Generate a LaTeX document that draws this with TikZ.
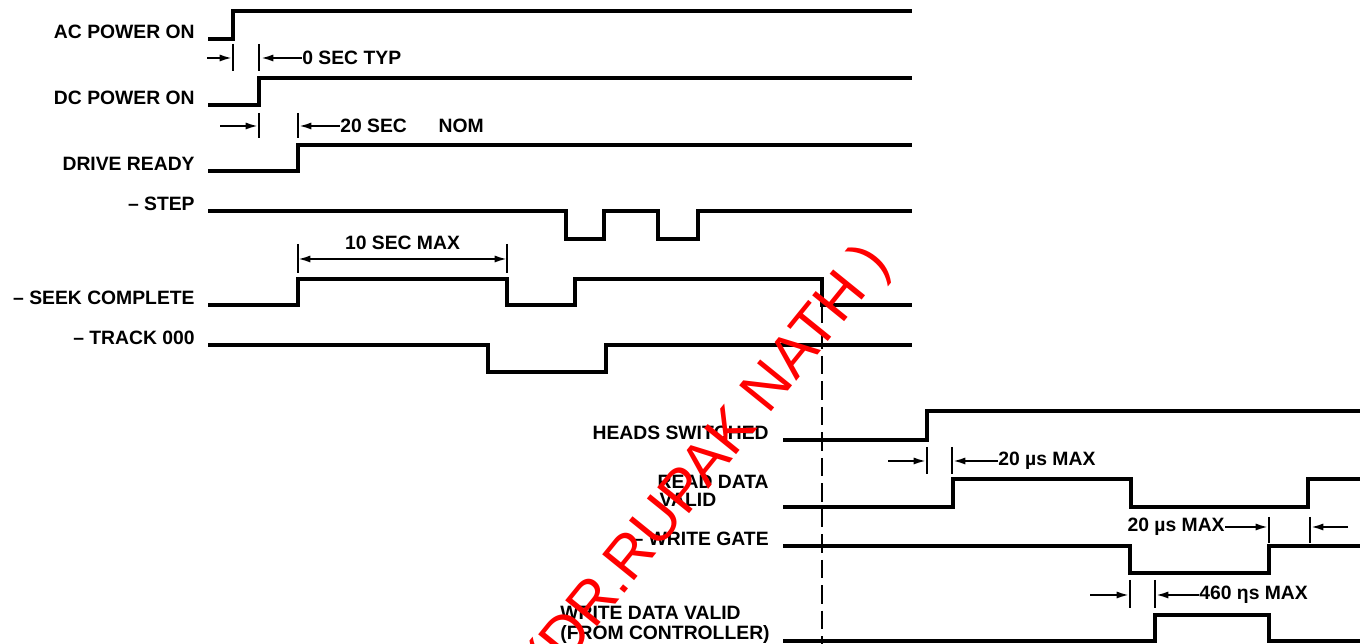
\documentclass[tikz,border=0pt]{standalone}
\usepackage{fontspec}
\setmainfont{Liberation Sans}
\usetikzlibrary{positioning, arrows.meta, calc}
\tikzset{
  sig/.style={line width=1.8pt, line join=miter},
  tck/.style={line width=1.1pt},
  arr/.style={-{Latex[length=7pt,width=4pt]}, line width=1.1pt},
  darr/.style={{Latex[length=7pt,width=4pt]}-{Latex[length=7pt,width=4pt]}, line width=1.1pt},
  lab/.style={font=\bfseries\fontsize{11}{11}\selectfont, inner sep=0pt},
  wm/.style={text=red, font=\fontsize{34}{34}\selectfont, inner sep=0pt, rotate=51}
}
\begin{document}
\begin{tikzpicture}[x=0.02cm, y=-0.02cm]
\useasboundingbox (0,0) rectangle (1367,644);
% power up and seek
\node[lab, anchor=base east] (ac)   at (195,39)  {AC POWER ON};
\node[lab, anchor=base east] (dc)   at (195,105) {DC POWER ON};
\node[lab, anchor=base east] (rdy)  at (195,171) {DRIVE READY};
\node[lab, anchor=base east] (stp)  at (195,211) {– STEP};
\node[lab, anchor=base east] (seek) at (195,305) {– SEEK COMPLETE};
\node[lab, anchor=base east] (trk)  at (195,345) {– TRACK 000};
\draw[sig] (208,39) -- (233,39) -- (233,11) -- (912,11);
\draw[sig] (208,105) -- (259,105) -- (259,78) -- (912,78);
\draw[sig] (208,171) -- (298,171) -- (298,145) -- (912,145);
\draw[sig] (208,211) -- (566,211) -- (566,239) -- (604,239) -- (604,211)
  -- (658,211) -- (658,239) -- (698,239) -- (698,211) -- (912,211);
\draw[sig] (208,305) -- (298,305) -- (298,279) -- (507,279) -- (507,305)
  -- (575,305) -- (575,279) -- (822,279) -- (822,305) -- (912,305);
\draw[sig] (208,345) -- (488,345) -- (488,372) -- (606,372) -- (606,345) -- (912,345);
\draw[line width=1.4pt, dash pattern=on 10.5pt off 4pt] (822,305) -- (822,644);

% heads and write
\node[lab, anchor=base east] (hds) at (769,440) {HEADS SWITCHED};
\node[lab, anchor=base east] (rdv1) at (769,489) {READ DATA};
\node[lab, anchor=base west] (rdv2) at ($(rdv1.base west)+(2,18)$) {VALID};
\node[lab, anchor=base east] (wg) at (769,546) {– WRITE GATE};
\node[lab, anchor=base east] (wdv2) at (770,640) {(FROM CONTROLLER)};
\node[lab, anchor=base west] (wdv1) at ($(wdv2.base west)+(0,-20)$) {WRITE DATA VALID};
\draw[sig] (783,440) -- (927,440) -- (927,411) -- (1360,411);
\draw[sig] (783,507) -- (953,507) -- (953,479) -- (1131,479) -- (1131,507)
  -- (1308,507) -- (1308,479) -- (1360,479);
\draw[sig] (783,546) -- (1130,546) -- (1130,573) -- (1269,573) -- (1269,546) -- (1360,546);
\draw[sig] (783,641) -- (1155,641) -- (1155,615) -- (1269,615) -- (1269,641) -- (1360,641);

% timing marks
\foreach \x/\a/\b in {233/44/71, 259/44/71, 259/113/138, 298/113/138, 298/244/273,
  507/244/273, 927/447/474, 952/447/474, 1269/517/543, 1310/517/543,
  1130/580/608, 1155/580/608}
  \draw[tck] (\x,\a) -- (\x,\b);
\node[lab, anchor=west] (t0)  at (302,58)  {0 SEC TYP};
\node[lab, anchor=west] (t20) at (340,126) {20 SEC\hspace{18pt}NOM};
\node[lab, anchor=base] (t10) at (402.5,250) {10 SEC MAX};
\node[lab, anchor=west] (tus1) at (998,461) {20 µs MAX};
\node[lab, anchor=east] (tus2) at (1225,527) {20 µs MAX};
\node[lab, anchor=west] (tns) at (1199,595) {460 ηs MAX};
\draw[arr] (207,58) -- (232,58);
\draw[arr] (t0.west) -- (261,58);
\draw[arr] (220,126) -- (258,126);
\draw[arr] (t20.west) -- (299,126);
\draw[darr] (298,259) -- (507,259);
\draw[arr] (888,461) -- (926,461);
\draw[arr] (tus1.west) -- (953,461);
\draw[arr] (tus2.east) -- (1268,527);
\draw[arr] (1348,527) -- (1311,527);
\draw[arr] (1090,595) -- (1129,595);
\draw[arr] (tns.west) -- (1156,595);

\node[wm] (wmk) at (711,462) {(DR.RUPAK NATH )};
\end{tikzpicture}
\end{document}
